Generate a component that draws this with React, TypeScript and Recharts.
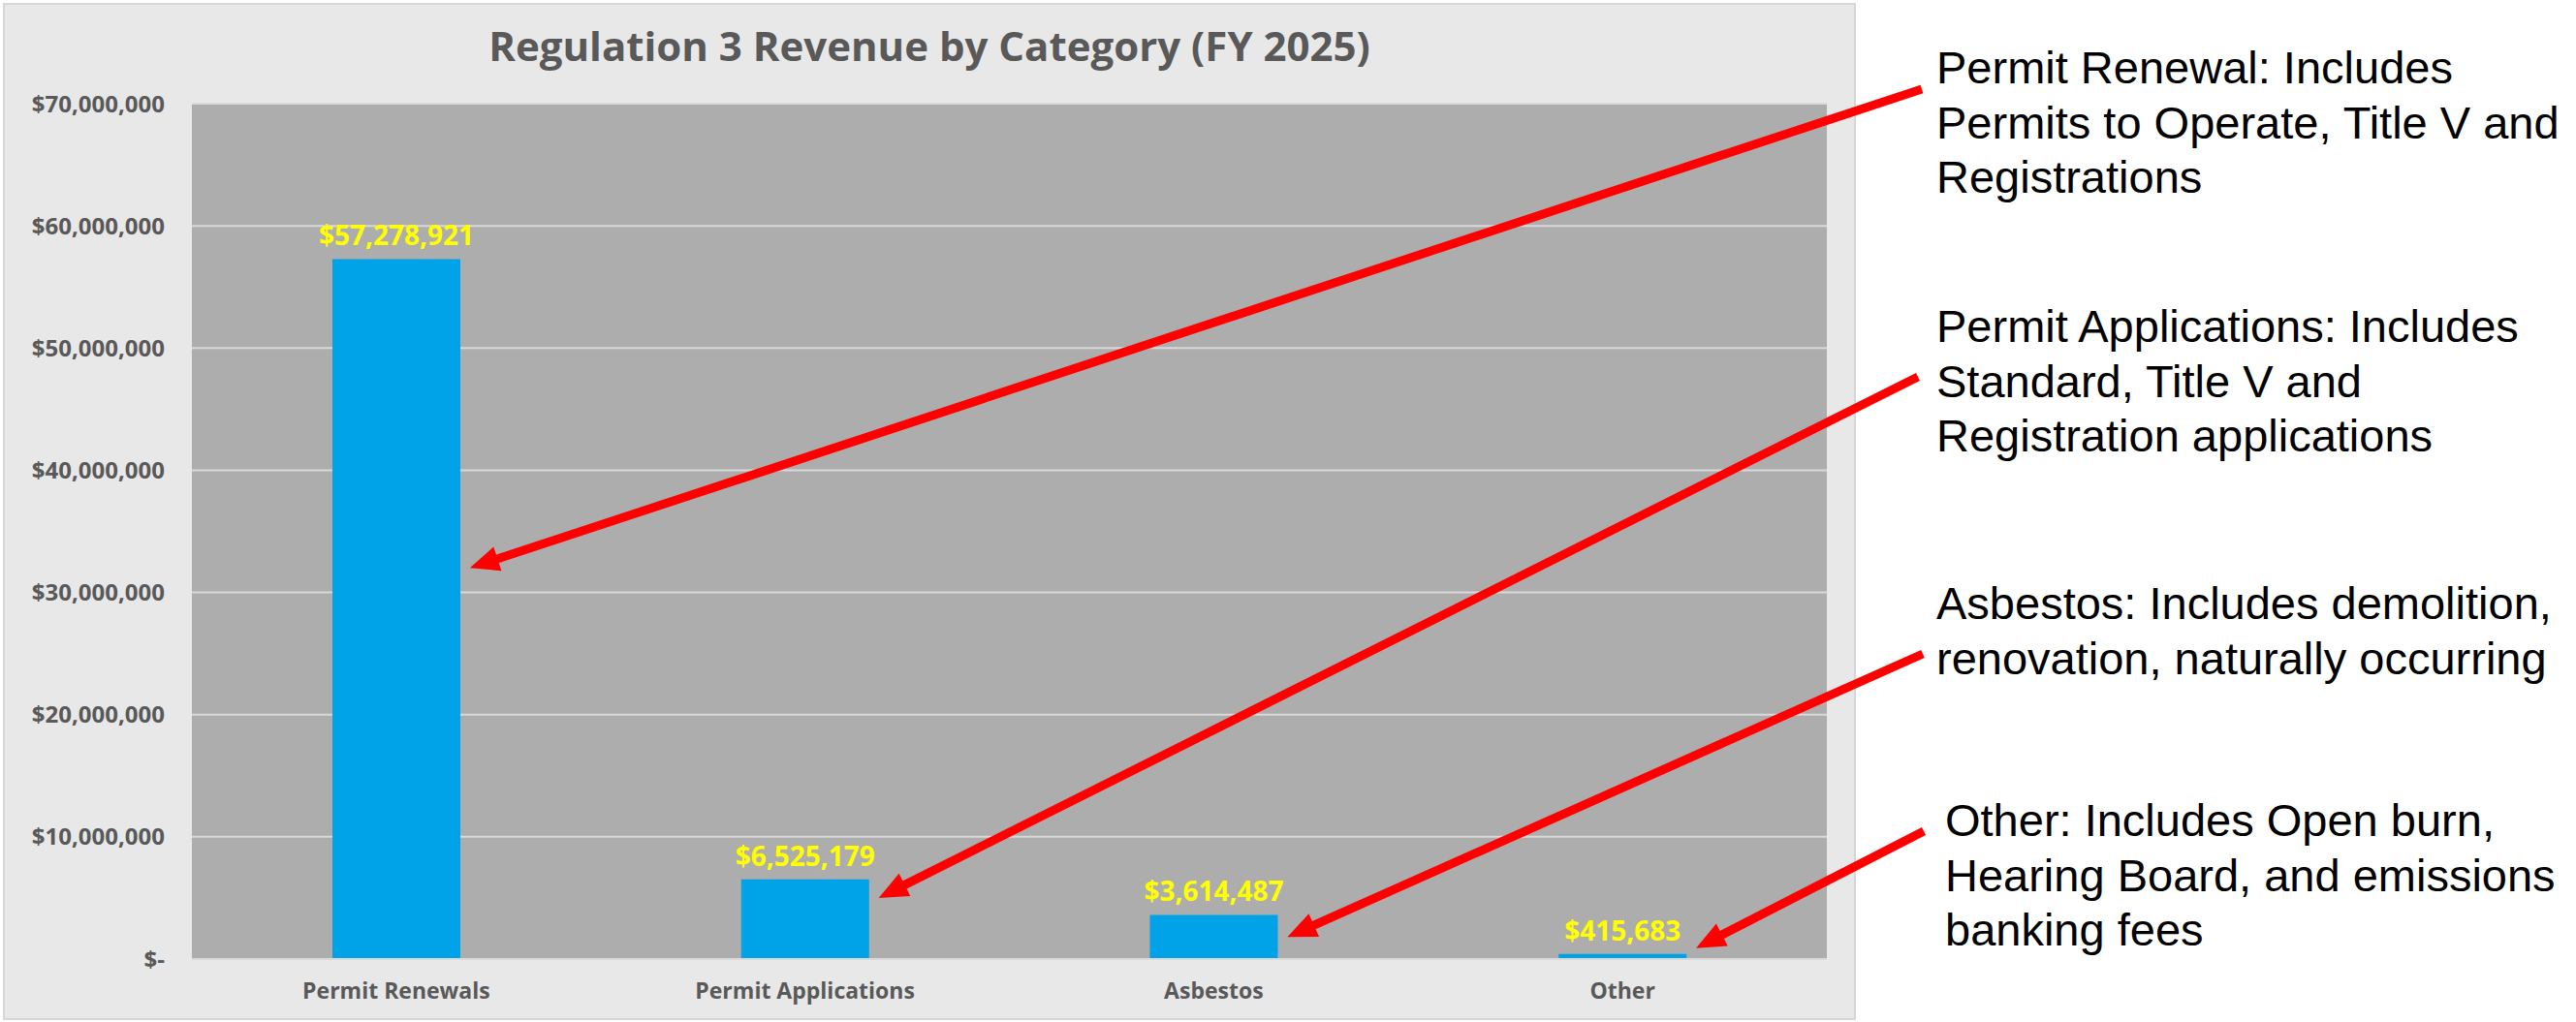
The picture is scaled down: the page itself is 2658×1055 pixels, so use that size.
import React from 'react';
import { BarChart, Bar, XAxis, YAxis, CartesianGrid, LabelList } from 'recharts';

const categories = ['Permit Renewals', 'Permit Applications', 'Asbestos', 'Other'];
const revenue = [57278921, 6525179, 3614487, 415683];
const yTicks = [0, 10000000, 20000000, 30000000, 40000000, 50000000, 60000000, 70000000];

const notes = [
    ['Permit Renewal: Includes', 'Permits to Operate, Title V and', 'Registrations'],
    ['Permit Applications: Includes', 'Standard, Title V and', 'Registration applications'],
    ['Asbestos: Includes demolition,', 'renovation, naturally occurring'],
    ['Other: Includes Open burn,', 'Hearing Board, and emissions', 'banking fees'],
];
// value on each bar where its arrow lands
const arrowTargets = [32000000, 5000000, 1800000, 900000];

// layout
const CHART_W = 1915;
const CHART_H = 1055;
const MARGIN = { top: 107, right: 30, bottom: 20, left: 18 };
const Y_AXIS_W = 180;
const X_AXIS_H = 45;
const BAR_SIZE = 132;
const Y_MAX = 70000000;

const PLOT_LEFT = MARGIN.left + Y_AXIS_W;
const PLOT_W = CHART_W - PLOT_LEFT - MARGIN.right;
const PLOT_TOP = MARGIN.top;
const PLOT_H = CHART_H - MARGIN.top - MARGIN.bottom - X_AXIS_H;

const noteLayout = [
    { x: 1998, y: 86 },
    { x: 1998, y: 353 },
    { x: 1998, y: 639 },
    { x: 2007, y: 863 },
];
const arrowTails = [
    { x: 1983, y: 92 },
    { x: 1979, y: 389 },
    { x: 1984, y: 675 },
    { x: 1985, y: 858 },
];

const GREY_TEXT = '#595959';
const FONT = '"Open Sans", sans-serif';

const data = categories.map((name, i) => ({ name, value: revenue[i] }));

const money = (v: number) => (v === 0 ? '$-' : '$' + v.toLocaleString('en-US'));

const Arrow = ({ x1, y1, x2, y2 }: { x1: number; y1: number; x2: number; y2: number }) => {
    const dx = x2 - x1;
    const dy = y2 - y1;
    const len = Math.sqrt(dx * dx + dy * dy);
    const ux = dx / len;
    const uy = dy / len;
    const headLen = 30;
    const headHalf = 13;
    const bx = x2 - ux * headLen;
    const by = y2 - uy * headLen;
    const pts = [
        `${x2},${y2}`,
        `${bx - uy * headHalf},${by + ux * headHalf}`,
        `${bx + uy * headHalf},${by - ux * headHalf}`,
    ].join(' ');
    return (
        <g>
            <line x1={x1} y1={y1} x2={bx + ux * 2} y2={by + uy * 2} stroke="#FF0000" strokeWidth={9} />
            <polygon points={pts} fill="#FF0000" />
        </g>
    );
};

export default function App() {
    const band = PLOT_W / categories.length;

    return (
        <div style={{ position: 'absolute', left: 0, top: 0, width: 2658, height: 1055, background: '#ffffff' }}>
            <div
                style={{
                    position: 'absolute',
                    left: 3,
                    top: 3,
                    width: 1912,
                    height: 1050,
                    background: '#e8e8e8',
                    border: '2px solid #d6d6d6',
                    boxSizing: 'border-box',
                }}
            />
            <div style={{ position: 'absolute', left: 0, top: 0 }}>
                <BarChart width={CHART_W} height={CHART_H} data={data} margin={MARGIN}>
                    <CartesianGrid
                        vertical={false}
                        fill="#adadad"
                        fillOpacity={1}
                        stroke="#d9d9d9"
                        strokeWidth={2}
                    />
                    <XAxis
                        dataKey="name"
                        height={X_AXIS_H}
                        tickSize={0}
                        tickMargin={25}
                        axisLine={{ stroke: '#d9d9d9', strokeWidth: 2 }}
                        tick={{ fill: GREY_TEXT, fontSize: 23, fontWeight: 700, fontFamily: FONT }}
                    />
                    <YAxis
                        width={Y_AXIS_W}
                        domain={[0, Y_MAX]}
                        ticks={yTicks}
                        interval={0}
                        tickSize={0}
                        tickMargin={28}
                        axisLine={false}
                        tickFormatter={money}
                        tick={{ fill: GREY_TEXT, fontSize: 24, fontWeight: 700, fontFamily: FONT }}
                    />
                    <Bar dataKey="value" fill="#00A2E8" barSize={BAR_SIZE} isAnimationActive={false}>
                        <LabelList
                            dataKey="value"
                            position="top"
                            offset={14}
                            formatter={(v: number) => money(v)}
                            fill="#FFFF00"
                            fontSize={28}
                            fontWeight={700}
                            fontFamily={FONT}
                        />
                    </Bar>
                </BarChart>
            </div>
            <svg
                width={2658}
                height={1055}
                style={{ position: 'absolute', left: 0, top: 0, pointerEvents: 'none' }}
            >
                <text
                    x={959}
                    y={63}
                    textAnchor="middle"
                    fill={GREY_TEXT}
                    fontSize={42}
                    fontWeight={700}
                    fontFamily={FONT}
                >
                    Regulation 3 Revenue by Category (FY 2025)
                </text>
                {notes.map((lines, i) => (
                    <text
                        key={i}
                        x={noteLayout[i].x}
                        y={noteLayout[i].y}
                        fill="#000000"
                        fontSize={47}
                        fontFamily='"Liberation Sans", Arial, sans-serif'
                    >
                        {lines.map((line, j) => (
                            <tspan key={j} x={noteLayout[i].x} dy={j === 0 ? 0 : 56.5}>
                                {line}
                            </tspan>
                        ))}
                    </text>
                ))}
                {arrowTargets.map((v, i) => {
                    const tipX = PLOT_LEFT + (i + 0.5) * band + BAR_SIZE / 2 + 10;
                    const tipY = PLOT_TOP + (1 - v / Y_MAX) * PLOT_H;
                    return <Arrow key={i} x1={arrowTails[i].x} y1={arrowTails[i].y} x2={tipX} y2={tipY} />;
                })}
            </svg>
        </div>
    );
}
